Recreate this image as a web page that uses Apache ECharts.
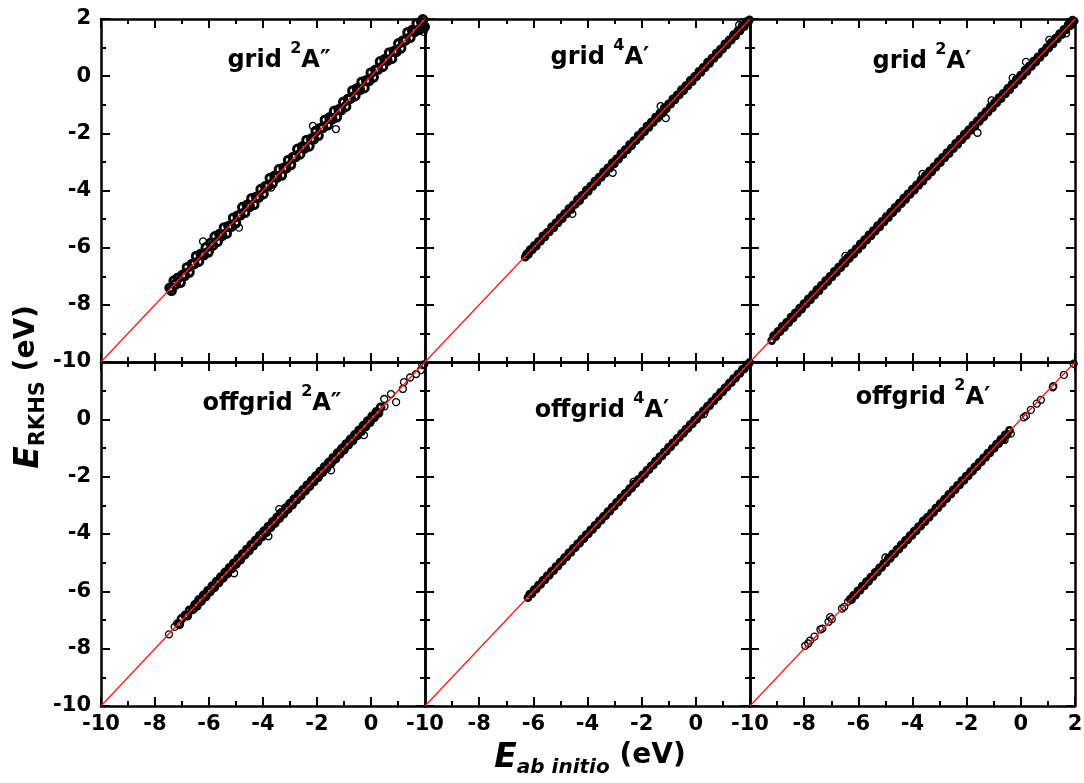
<!DOCTYPE html>
<html>
<head>
<meta charset="utf-8">
<script src="https://cdn.jsdelivr.net/npm/echarts@6.0.0/dist/echarts.min.js"></script>
<style>html,body{margin:0;padding:0;background:#fff}#chart{width:1084px;height:783px}</style>
</head>
<body>
<div id="chart"></div>
<script>
// ---- data (E_ab initio, E_RKHS) in eV ----
// each panel: points inside the dense band, and isolated points
const axisMin = -10, axisMax = 2, axisStep = 2;
const refLine = [[-10, -10], [2, 2]];

const gridA2ppBand = [[-7.45,-7.41],[-7.39,-7.5],[-7.3,-7.16],[-7.24,-7.28],[-7.15,-7.06],[-7.06,-7.22],[-6.98,-6.96],[-6.9,-6.98],[-6.81,-6.69],[-6.73,-6.86],[-6.63,-6.58],[-6.55,-6.57],[-6.47,-6.3],[-6.38,-6.48],[-6.3,-6.22],[-6.2,-6.26],[-6.11,-5.99],[-6.03,-6.16],[-5.94,-5.84],[-5.86,-5.92],[-5.78,-5.61],[-5.69,-5.79],[-5.61,-5.53],[-5.52,-5.58],[-5.44,-5.3],[-5.35,-5.5],[-5.27,-5.25],[-5.18,-5.26],[-5.1,-4.96],[-5.01,-5.14],[-4.93,-4.88],[-4.84,-4.86],[-4.76,-4.59],[-4.67,-4.77],[-4.59,-4.51],[-4.5,-4.56],[-4.42,-4.28],[-4.33,-4.49],[-4.25,-4.23],[-4.16,-4.24],[-4.08,-3.96],[-3.99,-4.12],[-3.91,-3.86],[-3.82,-3.84],[-3.74,-3.57],[-3.65,-3.75],[-3.57,-3.49],[-3.48,-3.54],[-3.4,-3.26],[-3.31,-3.47],[-3.23,-3.21],[-3.14,-3.22],[-3.06,-2.94],[-2.97,-3.1],[-2.89,-2.84],[-2.8,-2.82],[-2.72,-2.55],[-2.63,-2.73],[-2.55,-2.47],[-2.46,-2.52],[-2.38,-2.24],[-2.29,-2.45],[-2.21,-2.19],[-2.12,-2.2],[-2.04,-1.92],[-1.95,-2.08],[-1.87,-1.82],[-1.78,-1.8],[-1.7,-1.53],[-1.61,-1.71],[-1.53,-1.45],[-1.44,-1.5],[-1.36,-1.22],[-1.27,-1.43],[-1.19,-1.17],[-1.1,-1.18],[-1.02,-0.9],[-0.93,-1.06],[-0.85,-0.8],[-0.76,-0.78],[-0.68,-0.51],[-0.59,-0.69],[-0.51,-0.43],[-0.42,-0.48],[-0.34,-0.2],[-0.25,-0.41],[-0.17,-0.15],[-0.08,-0.16],[0.0,0.12],[0.09,-0.04],[0.17,0.22],[0.26,0.24],[0.34,0.51],[0.43,0.33],[0.51,0.59],[0.6,0.54],[0.68,0.82],[0.77,0.61],[0.85,0.87],[0.94,0.86],[1.02,1.14],[1.11,0.98],[1.19,1.24],[1.28,1.26],[1.36,1.53],[1.45,1.35],[1.53,1.61],[1.62,1.56],[1.7,1.84],[1.79,1.63],[1.87,1.89],[1.92,1.98],[1.98,1.72]];
const gridA2ppIsolated = [[-6.22,-5.78],[-4.89,-5.3],[-2.15,-1.74],[-1.3,-1.85],[1.95,1.55],[-5.97,-6.12],[-3.7,-3.9]];

const gridA4pBand = [[-6.3,-6.33],[-6.25,-6.22],[-6.18,-6.24],[-6.12,-6.07],[-6.04,-6.08],[-5.97,-5.93],[-5.89,-5.95],[-5.81,-5.78],[-5.73,-5.77],[-5.65,-5.59],[-5.57,-5.62],[-5.49,-5.46],[-5.41,-5.45],[-5.33,-5.27],[-5.25,-5.31],[-5.17,-5.13],[-5.09,-5.13],[-5.01,-4.96],[-4.93,-4.99],[-4.85,-4.81],[-4.77,-4.82],[-4.69,-4.63],[-4.61,-4.67],[-4.53,-4.5],[-4.45,-4.49],[-4.37,-4.31],[-4.29,-4.36],[-4.21,-4.17],[-4.13,-4.17],[-4.05,-3.99],[-3.97,-4.03],[-3.89,-3.85],[-3.81,-3.86],[-3.73,-3.67],[-3.65,-3.71],[-3.57,-3.53],[-3.49,-3.54],[-3.41,-3.35],[-3.33,-3.39],[-3.25,-3.21],[-3.17,-3.22],[-3.09,-3.03],[-3.01,-3.07],[-2.93,-2.89],[-2.85,-2.9],[-2.77,-2.71],[-2.69,-2.75],[-2.61,-2.57],[-2.53,-2.58],[-2.45,-2.39],[-2.37,-2.43],[-2.29,-2.25],[-2.21,-2.26],[-2.13,-2.07],[-2.05,-2.11],[-1.97,-1.93],[-1.89,-1.94],[-1.81,-1.75],[-1.73,-1.79],[-1.65,-1.61],[-1.57,-1.62],[-1.49,-1.43],[-1.41,-1.47],[-1.33,-1.29],[-1.25,-1.3],[-1.17,-1.11],[-1.09,-1.15],[-1.01,-0.97],[-0.93,-0.98],[-0.85,-0.79],[-0.77,-0.83],[-0.69,-0.65],[-0.61,-0.66],[-0.53,-0.47],[-0.45,-0.51],[-0.37,-0.33],[-0.29,-0.34],[-0.21,-0.15],[-0.13,-0.19],[-0.05,-0.01],[0.03,-0.02],[0.11,0.17],[0.19,0.13],[0.27,0.31],[0.35,0.3],[0.43,0.49],[0.51,0.45],[0.59,0.63],[0.67,0.62],[0.75,0.81],[0.83,0.77],[0.91,0.95],[0.99,0.94],[1.07,1.13],[1.15,1.09],[1.23,1.27],[1.31,1.26],[1.39,1.45],[1.47,1.41],[1.55,1.59],[1.63,1.58],[1.71,1.77],[1.79,1.73],[1.87,1.91],[1.94,1.9],[1.98,1.97]];
const gridA4pIsolated = [[-4.56,-4.82],[-3.07,-3.38],[-1.3,-1.05],[-1.11,-1.47],[1.6,1.79],[-1.2,-1.28]];

const gridA2pBand = [[-9.2,-9.25],[-9.13,-9.08],[-9.05,-9.11],[-8.97,-8.93],[-8.89,-8.94],[-8.81,-8.75],[-8.73,-8.79],[-8.65,-8.61],[-8.57,-8.62],[-8.49,-8.43],[-8.41,-8.47],[-8.33,-8.28],[-8.25,-8.3],[-8.17,-8.11],[-8.09,-8.15],[-8.01,-7.96],[-7.93,-7.98],[-7.85,-7.79],[-7.77,-7.83],[-7.69,-7.64],[-7.61,-7.66],[-7.53,-7.47],[-7.45,-7.51],[-7.37,-7.32],[-7.29,-7.34],[-7.21,-7.15],[-7.13,-7.19],[-7.05,-7.0],[-6.97,-7.02],[-6.89,-6.83],[-6.81,-6.87],[-6.73,-6.68],[-6.65,-6.7],[-6.57,-6.51],[-6.49,-6.55],[-6.41,-6.36],[-6.33,-6.38],[-6.25,-6.19],[-6.17,-6.23],[-6.09,-6.04],[-6.01,-6.06],[-5.93,-5.87],[-5.85,-5.91],[-5.77,-5.72],[-5.69,-5.74],[-5.61,-5.55],[-5.53,-5.59],[-5.45,-5.4],[-5.37,-5.42],[-5.29,-5.23],[-5.21,-5.27],[-5.13,-5.08],[-5.05,-5.1],[-4.97,-4.91],[-4.89,-4.95],[-4.81,-4.76],[-4.73,-4.78],[-4.65,-4.59],[-4.57,-4.63],[-4.49,-4.44],[-4.41,-4.46],[-4.33,-4.27],[-4.25,-4.31],[-4.17,-4.12],[-4.09,-4.14],[-4.01,-3.95],[-3.93,-3.99],[-3.85,-3.8],[-3.77,-3.82],[-3.69,-3.63],[-3.61,-3.67],[-3.53,-3.48],[-3.45,-3.5],[-3.37,-3.31],[-3.29,-3.35],[-3.21,-3.16],[-3.13,-3.18],[-3.05,-2.99],[-2.97,-3.03],[-2.89,-2.84],[-2.81,-2.86],[-2.73,-2.67],[-2.65,-2.71],[-2.57,-2.52],[-2.49,-2.54],[-2.41,-2.35],[-2.33,-2.39],[-2.25,-2.2],[-2.17,-2.22],[-2.09,-2.03],[-2.01,-2.07],[-1.93,-1.88],[-1.85,-1.9],[-1.77,-1.71],[-1.69,-1.75],[-1.61,-1.56],[-1.53,-1.58],[-1.45,-1.39],[-1.37,-1.43],[-1.29,-1.24],[-1.21,-1.26],[-1.13,-1.07],[-1.05,-1.11],[-0.97,-0.92],[-0.89,-0.94],[-0.81,-0.75],[-0.73,-0.79],[-0.65,-0.6],[-0.57,-0.62],[-0.49,-0.43],[-0.41,-0.47],[-0.33,-0.28],[-0.25,-0.3],[-0.17,-0.11],[-0.09,-0.15],[-0.01,0.04],[0.07,0.02],[0.15,0.21],[0.23,0.17],[0.31,0.36],[0.39,0.34],[0.47,0.53],[0.55,0.49],[0.63,0.68],[0.71,0.66],[0.79,0.85],[0.87,0.81],[0.95,1.0],[1.03,0.98],[1.11,1.17],[1.19,1.13],[1.27,1.32],[1.35,1.3],[1.43,1.49],[1.51,1.45],[1.59,1.64],[1.67,1.62],[1.75,1.81],[1.83,1.77],[1.91,1.96],[1.97,1.93]];
const gridA2pIsolated = [[-6.48,-6.29],[-3.63,-3.42],[-1.6,-1.98],[-0.3,-0.06],[0.19,0.5],[1.67,1.5],[-1.08,-0.85],[1.05,1.27]];

const offgridA2ppBand = [[-7.1,-7.15],[-7.02,-6.96],[-6.88,-6.84],[-6.8,-6.85],[-6.72,-6.66],[-6.6,-6.63],[-6.52,-6.47],[-6.45,-6.51],[-6.37,-6.3],[-6.29,-6.34],[-6.2,-6.14],[-6.12,-6.18],[-6.04,-5.98],[-5.96,-6.01],[-5.88,-5.82],[-5.8,-5.86],[-5.72,-5.66],[-5.64,-5.69],[-5.56,-5.5],[-5.48,-5.53],[-5.4,-5.34],[-5.32,-5.38],[-5.24,-5.18],[-5.16,-5.21],[-5.08,-5.02],[-5.0,-5.05],[-4.92,-4.86],[-4.84,-4.9],[-4.76,-4.7],[-4.68,-4.73],[-4.6,-4.54],[-4.52,-4.58],[-4.44,-4.38],[-4.36,-4.41],[-4.28,-4.22],[-4.2,-4.26],[-4.12,-4.06],[-4.04,-4.09],[-3.96,-3.9],[-3.88,-3.94],[-3.8,-3.74],[-3.72,-3.77],[-3.64,-3.58],[-3.56,-3.62],[-3.48,-3.42],[-3.4,-3.45],[-3.32,-3.26],[-3.24,-3.3],[-3.16,-3.1],[-3.08,-3.13],[-3.0,-2.94],[-2.92,-2.98],[-2.84,-2.78],[-2.76,-2.81],[-2.68,-2.62],[-2.6,-2.66],[-2.52,-2.46],[-2.44,-2.49],[-2.36,-2.3],[-2.28,-2.34],[-2.2,-2.14],[-2.12,-2.17],[-2.04,-1.98],[-1.96,-2.02],[-1.88,-1.82],[-1.8,-1.85],[-1.72,-1.66],[-1.64,-1.7],[-1.56,-1.5],[-1.48,-1.53],[-1.4,-1.34],[-1.32,-1.38],[-1.24,-1.18],[-1.16,-1.21],[-1.08,-1.02],[-1.0,-1.06],[-0.92,-0.86],[-0.84,-0.89],[-0.76,-0.7],[-0.68,-0.74],[-0.6,-0.54],[-0.52,-0.57],[-0.44,-0.38],[-0.36,-0.42],[-0.28,-0.22],[-0.2,-0.25],[-0.12,-0.06],[-0.04,-0.1],[0.04,0.1],[0.12,0.07],[0.2,0.26],[0.28,0.22],[0.36,0.42]];
const offgridA2ppIsolated = [[-7.48,-7.5],[-7.27,-7.24],[-7.18,-7.12],[-5.07,-5.37],[-3.8,-4.08],[-3.4,-3.13],[-1.48,-1.78],[-0.26,-0.55],[0.49,0.71],[0.5,0.45],[0.74,0.88],[0.93,0.6],[1.18,1.06],[1.22,1.3],[1.45,1.46],[1.67,1.58],[1.85,1.72],[1.9,1.9],[1.97,1.92]];

const offgridA4pBand = [[-6.2,-6.22],[-6.13,-6.1],[-6.05,-6.08],[-5.97,-5.94],[-5.89,-5.92],[-5.81,-5.78],[-5.73,-5.76],[-5.65,-5.62],[-5.57,-5.6],[-5.49,-5.46],[-5.41,-5.44],[-5.33,-5.3],[-5.25,-5.28],[-5.17,-5.14],[-5.09,-5.12],[-5.01,-4.98],[-4.93,-4.96],[-4.85,-4.82],[-4.77,-4.8],[-4.69,-4.66],[-4.61,-4.64],[-4.53,-4.5],[-4.45,-4.48],[-4.37,-4.34],[-4.29,-4.32],[-4.21,-4.18],[-4.13,-4.16],[-4.05,-4.02],[-3.97,-4.0],[-3.89,-3.86],[-3.81,-3.84],[-3.73,-3.7],[-3.65,-3.68],[-3.57,-3.54],[-3.49,-3.52],[-3.41,-3.38],[-3.33,-3.36],[-3.25,-3.22],[-3.17,-3.2],[-3.09,-3.06],[-3.01,-3.04],[-2.93,-2.9],[-2.85,-2.88],[-2.77,-2.74],[-2.69,-2.72],[-2.61,-2.58],[-2.53,-2.56],[-2.45,-2.42],[-2.37,-2.4],[-2.29,-2.26],[-2.21,-2.24],[-2.13,-2.1],[-2.05,-2.08],[-1.97,-1.94],[-1.89,-1.92],[-1.81,-1.78],[-1.73,-1.76],[-1.65,-1.62],[-1.57,-1.6],[-1.49,-1.46],[-1.41,-1.44],[-1.33,-1.3],[-1.25,-1.28],[-1.17,-1.14],[-1.09,-1.12],[-1.01,-0.98],[-0.93,-0.96],[-0.85,-0.82],[-0.77,-0.8],[-0.69,-0.66],[-0.61,-0.64],[-0.53,-0.5],[-0.45,-0.48],[-0.37,-0.34],[-0.29,-0.32],[-0.21,-0.18],[-0.13,-0.16],[-0.05,-0.02],[0.03,0.0],[0.11,0.14],[0.19,0.16],[0.27,0.3],[0.35,0.32],[0.43,0.46],[0.51,0.48],[0.59,0.62],[0.67,0.64],[0.75,0.78],[0.83,0.8],[0.91,0.94],[0.99,0.96],[1.07,1.1],[1.15,1.12],[1.23,1.26],[1.31,1.28],[1.39,1.42],[1.47,1.44],[1.55,1.58],[1.63,1.6],[1.71,1.74],[1.79,1.76],[1.87,1.9],[1.95,1.93],[1.99,1.99]];
const offgridA4pIsolated = [[-2.3,-2.18],[0.3,0.18]];

const offgridA2pBand = [[-6.3,-6.27],[-6.25,-6.29],[-6.18,-6.14],[-6.1,-6.13],[-6.02,-5.98],[-5.94,-5.97],[-5.86,-5.82],[-5.78,-5.81],[-5.7,-5.66],[-5.62,-5.65],[-5.54,-5.5],[-5.46,-5.49],[-5.38,-5.34],[-5.3,-5.33],[-5.22,-5.18],[-5.14,-5.17],[-5.06,-5.02],[-4.98,-5.01],[-4.9,-4.86],[-4.82,-4.85],[-4.74,-4.7],[-4.66,-4.69],[-4.58,-4.54],[-4.5,-4.53],[-4.42,-4.38],[-4.34,-4.37],[-4.26,-4.22],[-4.18,-4.21],[-4.1,-4.06],[-4.02,-4.05],[-3.94,-3.9],[-3.86,-3.89],[-3.78,-3.74],[-3.7,-3.73],[-3.62,-3.58],[-3.54,-3.57],[-3.46,-3.42],[-3.38,-3.41],[-3.3,-3.26],[-3.22,-3.25],[-3.14,-3.1],[-3.06,-3.09],[-2.98,-2.94],[-2.9,-2.93],[-2.82,-2.78],[-2.74,-2.77],[-2.66,-2.62],[-2.58,-2.61],[-2.5,-2.46],[-2.42,-2.45],[-2.34,-2.3],[-2.26,-2.29],[-2.18,-2.14],[-2.1,-2.13],[-2.02,-1.98],[-1.94,-1.97],[-1.86,-1.82],[-1.78,-1.81],[-1.7,-1.66],[-1.62,-1.65],[-1.54,-1.5],[-1.46,-1.49],[-1.38,-1.34],[-1.3,-1.33],[-1.22,-1.18],[-1.14,-1.17],[-1.06,-1.02],[-0.98,-1.01],[-0.9,-0.86],[-0.82,-0.85],[-0.74,-0.7],[-0.66,-0.69],[-0.58,-0.54],[-0.5,-0.53],[-0.42,-0.38]];
const offgridA2pIsolated = [[-7.96,-7.9],[-7.85,-7.82],[-7.78,-7.72],[-7.62,-7.58],[-7.4,-7.33],[-7.33,-7.3],[-7.1,-7.06],[-7.04,-6.9],[-6.98,-6.97],[-6.6,-6.6],[-6.52,-6.54],[-6.38,-6.36],[-5.0,-4.82],[-3.6,-3.53],[-0.37,-0.5],[-0.6,-0.72],[0.11,0.07],[0.19,0.12],[0.37,0.33],[0.59,0.55],[0.74,0.68],[1.18,1.12],[1.2,1.16],[1.59,1.55],[1.95,1.94]];

const bandData = [gridA2ppBand, gridA4pBand, gridA2pBand, offgridA2ppBand, offgridA4pBand, offgridA2pBand];
const isolatedData = [gridA2ppIsolated, gridA4pIsolated, gridA2pIsolated, offgridA2ppIsolated, offgridA4pIsolated, offgridA2pIsolated];
const panelLabels = [
  ['grid ', '2', 'A\u2033'], ['grid ', '4', 'A\u2032'], ['grid ', '2', 'A\u2032'],
  ['offgrid ', '2', 'A\u2033'], ['offgrid ', '4', 'A\u2032'], ['offgrid ', '2', 'A\u2032']
];

// ---- layout / style ----
const F = 'DejaVu Sans';
const gridBoxes = [
  {left: 101, top: 19, width: 324, height: 343},
  {left: 425, top: 19, width: 325, height: 343},
  {left: 750, top: 19, width: 325, height: 343},
  {left: 101, top: 362, width: 324, height: 344},
  {left: 425, top: 362, width: 325, height: 344},
  {left: 750, top: 362, width: 325, height: 344}
];
const labelPos = [[279, 61], [600, 58], [922, 62], [272, 404], [602, 411], [923, 398]];
const bandSymbolSize = [8, 6, 6, 7, 6, 6];
const bandBorder = [3, 2.7, 2.7, 2.7, 2.7, 2.7];

const lineStyle = {color: '#000', width: 2.5};
const labelStyle = {fontFamily: F, fontWeight: 'bold', fontSize: 21, color: '#000'};

function makeAxis(gi, pos, showLabel, showMax) {
  return {
    gridIndex: gi, type: 'value', position: pos,
    min: axisMin, max: axisMax, interval: axisStep,
    axisLine: {show: true, onZero: false, lineStyle: lineStyle},
    axisTick: {show: true, inside: true, length: 9, lineStyle: {color: '#000', width: 2}},
    minorTick: {show: true, splitNumber: 2, length: 5, lineStyle: {color: '#000', width: 2}},
    splitLine: {show: false}, minorSplitLine: {show: false},
    axisLabel: Object.assign({show: showLabel, margin: pos === 'left' ? 10 : 8,
      showMaxLabel: showMax, showMinLabel: true}, labelStyle)
  };
}

const grid = [], xAxis = [], yAxis = [], series = [], graphic = [];
gridBoxes.forEach((b, i) => {
  const row = Math.floor(i / 3), col = i % 3;
  grid.push(Object.assign({containLabel: false, outerBoundsMode: 'none'}, b));
  xAxis.push(makeAxis(i, 'bottom', row === 1, col === 2));
  xAxis.push(makeAxis(i, 'top', false, true));
  yAxis.push(makeAxis(i, 'left', col === 0, row === 0));
  yAxis.push(makeAxis(i, 'right', false, true));
  series.push({
    type: 'scatter', xAxisIndex: 2 * i, yAxisIndex: 2 * i, data: bandData[i],
    symbol: 'circle', symbolSize: bandSymbolSize[i], z: 2, silent: true,
    itemStyle: {color: 'rgba(0,0,0,0)', borderColor: '#000', borderWidth: bandBorder[i], opacity: 1}
  });
  series.push({
    type: 'scatter', xAxisIndex: 2 * i, yAxisIndex: 2 * i, data: isolatedData[i],
    symbol: 'circle', symbolSize: 7, z: 2, silent: true,
    itemStyle: {color: 'rgba(0,0,0,0)', borderColor: '#000', borderWidth: 1.3, opacity: 1}
  });
  series.push({
    type: 'line', xAxisIndex: 2 * i, yAxisIndex: 2 * i, data: refLine,
    symbol: 'none', z: 3, silent: true, lineStyle: {color: '#ff1a1a', width: 1.3}
  });
  const t = panelLabels[i];
  graphic.push({
    type: 'text', x: labelPos[i][0], y: labelPos[i][1], z: 10,
    style: {
      text: '{m|' + t[0] + '}{s|' + t[1] + '}{m|' + t[2] + '}',
      align: 'center', verticalAlign: 'middle',
      rich: {
        m: {fontFamily: F, fontWeight: 'bold', fontSize: 24, lineHeight: 40, fill: '#000'},
        s: {fontFamily: F, fontWeight: 'bold', fontSize: 16, lineHeight: 10, verticalAlign: 'top', fill: '#000'}
      }
    }
  });
});

const titleRich = {
  e: {fontFamily: F, fontWeight: 'bold', fontStyle: 'italic', fontSize: 33, lineHeight: 36, verticalAlign: 'top', fill: '#000'},
  p: {fontFamily: F, fontWeight: 'bold', fontSize: 28, lineHeight: 36, verticalAlign: 'top', fill: '#000'}
};
graphic.push({
  type: 'text', x: 31, y: 387, rotation: Math.PI / 2, z: 10,
  style: {
    text: '{e|E}{s|RKHS}{p| (eV)}', align: 'center', verticalAlign: 'middle',
    rich: Object.assign({
      s: {fontFamily: F, fontWeight: 'bold', fontSize: 21, lineHeight: 20, padding: [24, 0, 0, 0], verticalAlign: 'bottom', fill: '#000'}
    }, titleRich)
  }
});
graphic.push({
  type: 'text', x: 590, y: 760, z: 10,
  style: {
    text: '{e|E}{s|ab initio}{p| (eV)}', align: 'center', verticalAlign: 'middle',
    rich: Object.assign({
      s: {fontFamily: F, fontWeight: 'bold', fontStyle: 'italic', fontSize: 20, lineHeight: 20, padding: [24, 0, 0, 0], verticalAlign: 'bottom', fill: '#000'}
    }, titleRich)
  }
});

const chart = echarts.init(document.getElementById('chart'), null, {renderer: 'canvas'});
chart.setOption({
  animation: false,
  backgroundColor: '#fff',
  grid: grid, xAxis: xAxis, yAxis: yAxis, series: series, graphic: graphic
});
</script>
</body>
</html>
